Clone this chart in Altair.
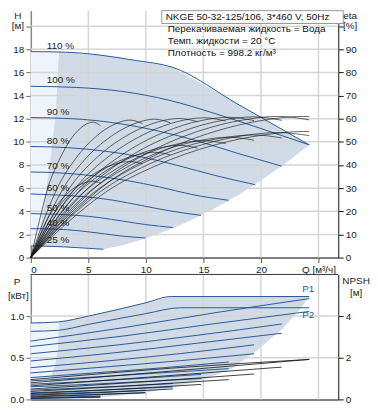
import altair as alt
import pandas as pd

SPEED_LABELS = ["110 %", "100 %", "90 %", "80 %", "70 %", "60 %", "50 %", "40 %", "25 %"]

# --- QH curves (H in m) per speed
QH_Q = [
    [0, 3, 6, 9, 12.3, 18, 24.2],
    [0, 4, 8, 12, 16, 20, 24.2],
    [0, 3.6, 7.2, 10.8, 14.4, 18, 21.8],
    [0, 3.2, 6.4, 9.6, 12.8, 16, 19.5],
    [0, 2.8, 5.6, 8.4, 11.2, 14, 17.2],
    [0, 2.4, 4.8, 7.2, 9.6, 12, 14.8],
    [0, 2, 4, 6, 8, 10, 12.35],
    [0, 1.6, 3.2, 4.8, 6.4, 8, 9.95],
    [0, 1, 2, 3, 4, 5, 6.3],
]
QH_H = [
    [17.8, 17.75, 17.5, 17.05, 16.45, 13.25, 9.74],
    [14.8, 14.7, 14.35, 13.6, 12.45, 11.15, 9.74],
    [12.1, 12.0, 11.65, 11.0, 10.1, 9.0, 7.9],
    [9.6, 9.5, 9.2, 8.7, 7.95, 7.1, 6.3],
    [7.4, 7.3, 7.05, 6.65, 6.1, 5.45, 4.95],
    [5.5, 5.4, 5.25, 4.95, 4.5, 4.05, 3.65],
    [3.8, 3.75, 3.65, 3.45, 3.15, 2.85, 2.6],
    [2.5, 2.48, 2.4, 2.25, 2.05, 1.85, 1.7],
    [1.0, 0.99, 0.96, 0.92, 0.86, 0.8, 0.72],
]

# --- efficiency curves (eta %) per speed
ETA_Q = [
    [0, 3.2, 6.6, 10.7, 16, 20.4, 23.7, 24.2],
    [0, 2.9, 6, 9.7, 14.5, 18.5, 21.5, 24.2],
    [0, 2.6, 5.4, 8.7, 13.05, 16.65, 19.35, 21.8],
    [0, 2.3, 4.8, 7.8, 11.6, 14.8, 17.2, 19.4],
    [0, 2.0, 4.2, 6.8, 10.15, 12.95, 15.05, 16.95],
    [0, 1.75, 3.6, 5.8, 8.7, 11.1, 12.9, 14.5],
    [0, 1.45, 3.0, 4.85, 7.25, 9.25, 10.75, 12.1],
    [0, 1.15, 2.4, 3.9, 5.8, 7.4, 8.6, 9.7],
    [0, 0.75, 1.5, 2.45, 3.6, 4.6, 5.4, 6.05],
]
ETA_HYD = [
    [0, 17, 32, 44, 54.5, 59.5, 61, 60.9],
    [0, 17, 32, 44, 54.5, 59.5, 61, 59.5],
    [0, 17, 32, 44, 54.3, 59.3, 60.8, 59.3],
    [0, 17, 32, 44, 54.2, 59.2, 60.6, 59.2],
    [0, 17, 32, 43.8, 54, 59, 60.4, 59],
    [0, 16.8, 31.7, 43.5, 53.7, 58.7, 60.1, 58.7],
    [0, 16.6, 31.4, 43.2, 53.3, 58.3, 59.8, 58.3],
    [0, 16.4, 31, 42.8, 52.9, 57.9, 59.4, 57.9],
    [0, 16, 30.4, 42, 52, 57, 58.5, 57],
]
ETA_TOT = [
    [0, 15.2, 28.6, 39.3, 48.7, 53.1, 54.5, 54.4],
    [0, 15, 28.3, 39, 48.2, 52.7, 54, 52.7],
    [0, 14.8, 27.8, 38.2, 47.4, 51.7, 53, 51.7],
    [0, 14.5, 27.3, 37.5, 46.4, 50.7, 52, 50.7],
    [0, 14.1, 26.5, 36.4, 45.1, 49.3, 50.5, 49.3],
    [0, 13.5, 25.4, 35, 43.3, 47.3, 48.5, 47.3],
    [0, 12.7, 23.9, 32.8, 40.7, 44.4, 45.5, 44.4],
    [0, 11.6, 21.8, 29.9, 37.1, 40.5, 41.5, 40.5],
    [0, 9.2, 17.3, 23.8, 29.5, 32.2, 33, 32.2],
]

# --- operating region (top)
REG_Q = [0, 0.55, 2, 4, 6.3, 8, 10, 12.3, 14, 16, 18, 20, 22, 24.2]
REG_TOP = [17.8, 17.8, 17.78, 17.68, 17.47, 17.22, 16.9, 16.45, 15.5, 14.4, 13.25, 12.1, 11.0, 9.74]
REG_BOT = [1.0, 0.99, 0.96, 0.86, 0.72, 1.07, 1.66, 2.52, 3.26, 4.26, 5.39, 6.65, 8.05, 9.74]
LS_Q = [0, 0.55, 1.05, 1.5, 1.8, 2.18, 2.45]
LS_TOP = [17.8, 17.8, 17.8, 17.79, 17.79, 17.78, 17.77]
LS_BOT = [1.0, 0.99, 4.0, 7.0, 9.2, 12.6, 17.77]

# --- power curves (kW)
P1_Q = [
    [0, 2.4, 5, 10, 12.2, 24.2],
    [0, 8, 16, 24.2],
    [0, 7.3, 14.5, 21.8],
    [0, 6.5, 13, 19.4],
    [0, 5.7, 11.5, 17.2],
    [0, 4.9, 9.9, 14.8],
    [0, 4.1, 8.2, 12.35],
    [0, 3.3, 6.6, 9.95],
    [0, 2, 4, 6.05],
]
P1_VAL = [
    [0.917, 0.93, 1.0, 1.16, 1.235, 1.235],
    [0.70, 0.86, 1.04, 1.21],
    [0.548, 0.65, 0.77, 0.905],
    [0.381, 0.46, 0.55, 0.655],
    [0.262, 0.32, 0.38, 0.449],
    [0.182, 0.215, 0.255, 0.30],
    [0.111, 0.135, 0.16, 0.19],
    [0.06, 0.075, 0.09, 0.11],
    [0.02, 0.025, 0.032, 0.04],
]
P2_Q = [
    [0, 2.4, 5, 10, 13, 24.2],
    [0, 8, 16, 24.2],
    [0, 7.3, 14.5, 21.8],
    [0, 6.5, 13, 19.4],
    [0, 5.7, 11.5, 17.2],
    [0, 4.9, 9.9, 14.8],
    [0, 4.1, 8.2, 12.35],
    [0, 3.3, 6.6, 9.95],
    [0, 2, 4, 6.05],
]
P2_VAL = [
    [0.817, 0.83, 0.9, 1.03, 1.10, 1.10],
    [0.635, 0.76, 0.91, 1.056],
    [0.461, 0.56, 0.675, 0.794],
    [0.318, 0.39, 0.465, 0.548],
    [0.222, 0.27, 0.32, 0.369],
    [0.151, 0.18, 0.215, 0.25],
    [0.079, 0.1, 0.125, 0.15],
    [0.039, 0.05, 0.065, 0.08],
    [0.012, 0.016, 0.02, 0.025],
]
NPSH_Q = [
    [0, 12.2, 24.2], [0, 12, 24.2], [0, 11, 21.8], [0, 10, 19.4], [0, 8.6, 17.2],
    [0, 7.4, 14.8], [0, 6.2, 12.35], [0, 5, 9.95], [0, 3, 6.05],
]
NPSH_VAL = [
    [0.95, 1.5, 1.92], [0.8, 1.35, 1.92], [0.65, 1.1, 1.55], [0.5, 0.85, 1.22], [0.38, 0.65, 0.95],
    [0.28, 0.48, 0.72], [0.2, 0.33, 0.5], [0.12, 0.21, 0.32], [0.05, 0.08, 0.13],
]

# --- operating region (bottom)
BREG_Q = [0, 0.6, 2, 4, 6.05, 8, 10, 12.2, 15, 17.5, 19.6, 21.9, 23.5, 24.2]
BREG_TOP = [0.917, 0.92, 0.927, 0.97, 1.035, 1.10, 1.16, 1.235, 1.235, 1.235, 1.235, 1.235, 1.235, 1.235]
BREG_BOT = [0.012, 0.015, 0.016, 0.02, 0.025, 0.05, 0.08, 0.14, 0.24, 0.37, 0.58, 0.85, 1.10, 1.235]
BLS_Q = [0, 0.6, 1.0, 1.6, 2.1, 2.35, 2.45]
BLS_TOP = [0.917, 0.92, 0.922, 0.925, 0.928, 0.93, 0.93]
BLS_BOT = [0.012, 0.015, 0.08, 0.2, 0.4, 0.6, 0.93]

Q_TICKS = [0, 5, 10, 15, 20, 25]
H_TICKS = [0, 2, 4, 6, 8, 10, 12, 14, 16, 18, 20]
ETA_TICKS = [0, 10, 20, 30, 40, 50, 60, 70, 80, 90, 100]
P_TICKS = [0, 0.5, 1.0]
NPSH_TICKS = [0, 2, 4]
H_GRID = [2, 4, 6, 8, 10, 12, 14, 16, 18, 20]
P_GRID = [0.5, 1.0]
Q_GRID = [5, 10, 15, 20, 25]

HEADER_TITLE = "NKGE 50-32-125/106, 3*460 V, 50Hz"
HEADER_LINES = ["Перекачиваемая жидкость = Вода", "Темп. жидкости = 20 °C", "Плотность = 998.2 кг/м³"]
PLABELS = ["P1", "P2"]

FONT = "Liberation Sans"
BLUE = "#2a5896"
REGION = "#d0dbe7"
STRIP = "#edf4fc"
GRID = "#d5d5d5"


def lines_df(qs, vs, names, vname, prefix=""):
    rows = []
    for name, ql, vl in zip(names, qs, vs):
        for k, (q, v) in enumerate(zip(ql, vl)):
            rows.append({"Q": q, vname: v, "s": prefix + name, "k": k})
    return pd.DataFrame(rows)


W = 310
XS = alt.Scale(domain=[0, 26.72], nice=False, zero=False)
HS = alt.Scale(domain=[0, 21.34], nice=False)
ES = alt.Scale(domain=[0, 106.7], nice=False)
PS = alt.Scale(domain=[0, 1.5], nice=False)
NS = alt.Scale(domain=[0, 6], nice=False)

XAX_TOP = alt.Axis(values=Q_TICKS, labelExpr="datum.value == 25 ? 'Q [м³/ч]' : datum.label",
                   grid=False, title=None, tickSize=5, domainColor="#555", domainWidth=1.5,
                   tickColor="#555", labelOverlap=False)
XAX_BOT = alt.Axis(values=Q_TICKS, labels=False, ticks=False, grid=False, title=None,
                   domainColor="#555", domainWidth=1.5)
HAX = alt.Axis(values=H_TICKS, labelExpr="datum.value == 20 ? '' : datum.label", grid=False,
               title=None, tickSize=5, domainColor="#888", domainWidth=1.5, tickColor="#666")
EAX = alt.Axis(orient="right", values=ETA_TICKS, labelExpr="datum.value == 100 ? '' : datum.label",
               grid=False, title=None, tickSize=5, domainColor="#111", tickColor="#111")
PAX = alt.Axis(values=P_TICKS, format=".1f", grid=False, title=None, tickSize=5,
               domainColor="#888", domainWidth=1.5, tickColor="#666")
NAX = alt.Axis(orient="right", values=NPSH_TICKS, grid=False, title=None, tickSize=5,
               domainColor="#111", tickColor="#111")

xt = alt.X("Q:Q", scale=XS, axis=XAX_TOP)
xb = alt.X("Q:Q", scale=XS, axis=XAX_BOT)

one = pd.DataFrame({"a": [1]})


def label_text(txt, x, y, align="center", size=10, color="#222"):
    return alt.Chart(pd.DataFrame({"t": [txt]})).mark_text(
        font=FONT, fontSize=size, align=align, baseline="middle", color=color
    ).encode(x=alt.value(x), y=alt.value(y), text="t:N")


# ---------------- TOP -----------------
reg = pd.DataFrame({"Q": REG_Q, "top": REG_TOP, "bot": REG_BOT})
strip = pd.DataFrame({"Q": LS_Q, "top": LS_TOP, "bot": LS_BOT})
qh = lines_df(QH_Q, QH_H, SPEED_LABELS, "H")
labs = pd.DataFrame({"s": SPEED_LABELS, "H": [h[0] for h in QH_H]})
eta_h = lines_df(ETA_Q, ETA_HYD, SPEED_LABELS, "eta", "h")
eta_t = lines_df(ETA_Q, ETA_TOT, SPEED_LABELS, "eta", "t")
eta_all = pd.concat([eta_h, eta_t])

yH = lambda f: alt.Y(f, scale=HS, axis=HAX)

top_h = alt.layer(
    alt.Chart(reg).mark_area(color=REGION, interpolate="linear").encode(x=xt, y=yH("top:Q"), y2="bot:Q"),
    alt.Chart(strip).mark_area(color=STRIP, interpolate="linear").encode(x=xt, y=yH("top:Q"), y2="bot:Q"),
    alt.Chart(pd.DataFrame({"H": H_GRID})).mark_rule(color=GRID, strokeWidth=1.5).encode(y=yH("H:Q")),
    alt.Chart(pd.DataFrame({"Q": Q_GRID})).mark_rule(color=GRID, strokeWidth=1.5).encode(x=xt),
    alt.Chart(qh).mark_line(color=BLUE, strokeWidth=1, interpolate="monotone").encode(
        x=xt, y=yH("H:Q"), detail="s:N", order="k:Q"),
    alt.Chart(labs).mark_text(font=FONT, fontSize=10, align="left", baseline="middle", dy=-6,
                              color="#222").encode(x=alt.value(16), y=yH("H:Q"), text="s:N"),
    alt.Chart(one).mark_rect(fill="white", stroke="#999", strokeWidth=1).encode(
        x=alt.value(132), x2=alt.value(315), y=alt.value(0), y2=alt.value(13)),
    label_text(HEADER_TITLE, 136, 6.5, align="left", color="#111"),
    label_text(HEADER_LINES[0], 138, 19, align="left", color="#111"),
    label_text(HEADER_LINES[1], 138, 31, align="left", color="#111"),
    label_text(HEADER_LINES[2], 138, 43, align="left", color="#111"),
    label_text("H", -13, 5),
    label_text("[м]", -13, 16),
    label_text("eta", 322, 5),
    label_text("[%]", 322, 16),
)
top_e = alt.Chart(eta_all).mark_line(color="#111", strokeWidth=0.7, opacity=0.9,
                                     interpolate="monotone").encode(
    x=xt, y=alt.Y("eta:Q", scale=ES, axis=EAX), detail="s:N", order="k:Q")

top = alt.layer(top_h, top_e).resolve_scale(y="independent").properties(width=W, height=249)

# ---------------- BOTTOM -----------------
breg = pd.DataFrame({"Q": BREG_Q, "top": BREG_TOP, "bot": BREG_BOT})
bstrip = pd.DataFrame({"Q": BLS_Q, "top": BLS_TOP, "bot": BLS_BOT})
p1 = lines_df(P1_Q, P1_VAL, SPEED_LABELS, "P", "p1")
p2 = lines_df(P2_Q, P2_VAL, SPEED_LABELS, "P", "p2")
pall = pd.concat([p1, p2])
npsh = lines_df(NPSH_Q, NPSH_VAL, SPEED_LABELS, "N")
pl1 = pd.DataFrame({"Q": [P1_Q[0][-1]], "P": [P1_VAL[0][-1]], "t": [PLABELS[0]]})
pl2 = pd.DataFrame({"Q": [P2_Q[0][-1]], "P": [P2_VAL[0][-1]], "t": [PLABELS[1]]})

yP = lambda f: alt.Y(f, scale=PS, axis=PAX)

bot_p = alt.layer(
    alt.Chart(breg).mark_area(color=REGION, interpolate="linear").encode(x=xb, y=yP("top:Q"), y2="bot:Q"),
    alt.Chart(bstrip).mark_area(color=STRIP, interpolate="linear").encode(x=xb, y=yP("top:Q"), y2="bot:Q"),
    alt.Chart(pd.DataFrame({"P": P_GRID})).mark_rule(color=GRID, strokeWidth=1.5).encode(y=yP("P:Q")),
    alt.Chart(pd.DataFrame({"Q": Q_GRID})).mark_rule(color=GRID, strokeWidth=1.5).encode(x=xb),
    alt.Chart(pall).mark_line(color=BLUE, strokeWidth=1, interpolate="monotone").encode(
        x=xb, y=yP("P:Q"), detail="s:N", order="k:Q"),
    alt.Chart(pl1).mark_text(font=FONT, fontSize=10, color=BLUE, dy=-8, dx=-1).encode(
        x=xb, y=yP("P:Q"), text="t:N"),
    alt.Chart(pl2).mark_text(font=FONT, fontSize=10, color=BLUE, dy=7, dx=-1).encode(
        x=xb, y=yP("P:Q"), text="t:N"),
    alt.Chart(one).mark_rule(color="#333", strokeWidth=1).encode(
        x=alt.value(0), x2=alt.value(W), y=alt.value(0)),
    label_text("P", -14, 8),
    label_text("[кВт]", -12.5, 22),
    label_text("NPSH", 328, 7),
    label_text("[м]", 328, 19),
)
bot_n = alt.Chart(npsh).mark_line(color="#111", strokeWidth=0.8, interpolate="monotone").encode(
    x=xb, y=alt.Y("N:Q", scale=NS, axis=NAX), detail="s:N", order="k:Q")

bottom = alt.layer(bot_p, bot_n).resolve_scale(y="independent").properties(width=W, height=126)

chart = alt.vconcat(top, bottom, spacing=17, bounds="flush").properties(
    padding={"left": 0, "top": 0, "right": 0, "bottom": 0}
).configure_view(stroke=None).configure_axis(
    labelFont=FONT, labelFontSize=10, labelColor="#222", labelPadding=2
)

chart.save("out.html", embed_options={"renderer": "svg", "actions": False})
